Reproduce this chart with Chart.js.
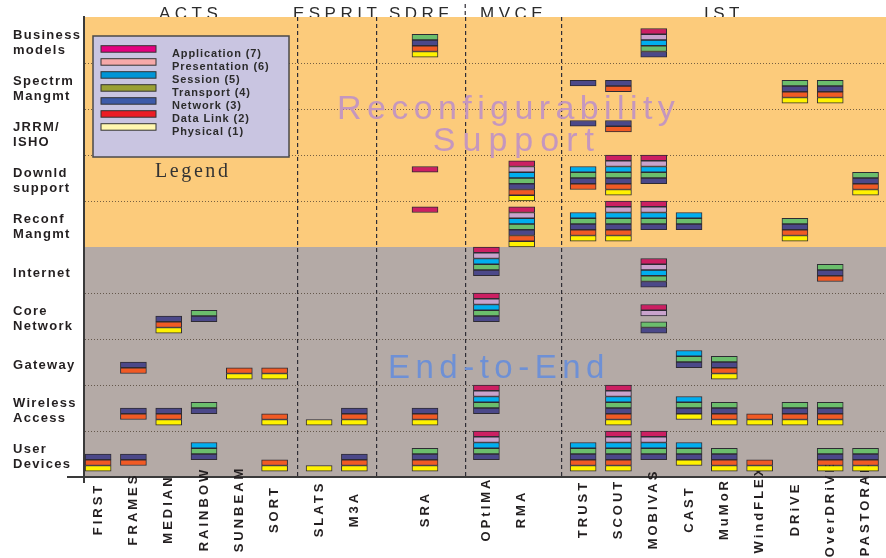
<!DOCTYPE html>
<html>
<head>
<meta charset="utf-8">
<script src="https://cdn.jsdelivr.net/npm/chart.js@4.4.1/dist/chart.umd.min.js"></script>
<style>
  html, body { margin: 0; padding: 0; background: #ffffff; }
  canvas { display: block; }
</style>
</head>
<body>
<canvas id="c" width="886" height="558"></canvas>
<script>
// ------------------------------------------------------------------ data
const groups = ['ACTS', 'ESPRIT', 'SDRF', 'MVCE', 'IST'];
const projects = ['FIRST', 'FRAMES', 'MEDIAN', 'RAINBOW', 'SUNBEAM', 'SORT', 'SLATS', 'M3A', 'SRA',
  'OPtIMA', 'RMA', 'TRUST', 'SCOUT', 'MOBIVAS', 'CAST', 'MuMoR', 'WindFLEX', 'DRiVE', 'OverDRiVE', 'PASTORAL'];
const projectGroup = [0, 0, 0, 0, 0, 0, 1, 1, 2, 3, 3, 4, 4, 4, 4, 4, 4, 4, 4, 4];
const rowLabels = [['Business', 'models'], ['Spectrm', 'Mangmt'], ['JRRM/', 'ISHO'], ['Downld', 'support'],
  ['Reconf', 'Mangmt'], 'Internet', ['Core', 'Network'], 'Gateway', ['Wireless', 'Access'], ['User', 'Devices']];
const layerNames = ['Application (7)', 'Presentation (6)', 'Session (5)', 'Transport (4)',
  'Network (3)', 'Data Link (2)', 'Physical (1)'];
const layerNumbers = [7, 6, 5, 4, 3, 2, 1];
const bandTitles = [['Reconfigurability', 'Support'], ['End-to-End']];
const bandRowCount = [5, 5];
const legendTitle = 'Legend';

// cells: [project, row index, first slot in the row (8 slots per row, 0 = top), layers top->bottom (0 = empty slot)]
const cells = [
  ['SRA', 0, 3, [4, 3, 2, 1]],
  ['MOBIVAS', 0, 2, [7, 6, 5, 4, 3]],

  ['TRUST', 1, 3, [3]],
  ['SCOUT', 1, 3, [3, 2]],
  ['DRiVE', 1, 3, [4, 3, 2, 1]],
  ['OverDRiVE', 1, 3, [4, 3, 2, 1]],

  ['TRUST', 2, 2, [3]],
  ['SCOUT', 2, 2, [3, 2]],

  ['SRA', 3, 2, [7]],
  ['RMA', 3, 1, [7, 6, 5, 4, 3, 2, 1]],
  ['TRUST', 3, 2, [5, 4, 3, 2]],
  ['SCOUT', 3, 0, [7, 6, 5, 4, 3, 2, 1]],
  ['MOBIVAS', 3, 0, [7, 6, 5, 4, 3]],
  ['PASTORAL', 3, 3, [4, 3, 2, 1]],

  ['SRA', 4, 1, [7]],
  ['RMA', 4, 1, [7, 6, 5, 4, 3, 2, 1]],
  ['TRUST', 4, 2, [5, 4, 3, 2, 1]],
  ['SCOUT', 4, 0, [7, 6, 5, 4, 3, 2, 1]],
  ['MOBIVAS', 4, 0, [7, 6, 5, 4, 3]],
  ['CAST', 4, 2, [5, 4, 3]],
  ['DRiVE', 4, 3, [4, 3, 2, 1]],

  ['OPtIMA', 5, 0, [7, 6, 5, 4, 3]],
  ['MOBIVAS', 5, 2, [7, 6, 5, 4, 3]],
  ['OverDRiVE', 5, 3, [4, 3, 2]],

  ['MEDIAN', 6, 4, [3, 2, 1]],
  ['RAINBOW', 6, 3, [4, 3]],
  ['OPtIMA', 6, 0, [7, 6, 5, 4, 3]],
  ['MOBIVAS', 6, 2, [7, 6, 0, 4, 3]],

  ['FRAMES', 7, 4, [3, 2]],
  ['SUNBEAM', 7, 5, [2, 1]],
  ['SORT', 7, 5, [2, 1]],
  ['CAST', 7, 2, [5, 4, 3]],
  ['MuMoR', 7, 3, [4, 3, 2, 1]],

  ['FRAMES', 8, 4, [3, 2]],
  ['MEDIAN', 8, 4, [3, 2, 1]],
  ['RAINBOW', 8, 3, [4, 3]],
  ['SORT', 8, 5, [2, 1]],
  ['SLATS', 8, 6, [1]],
  ['M3A', 8, 4, [3, 2, 1]],
  ['SRA', 8, 4, [3, 2, 1]],
  ['OPtIMA', 8, 0, [7, 6, 5, 4, 3]],
  ['SCOUT', 8, 0, [7, 6, 5, 4, 3, 2, 1]],
  ['CAST', 8, 2, [5, 4, 3, 1]],
  ['MuMoR', 8, 3, [4, 3, 2, 1]],
  ['WindFLEX', 8, 5, [2, 1]],
  ['DRiVE', 8, 3, [4, 3, 2, 1]],
  ['OverDRiVE', 8, 3, [4, 3, 2, 1]],

  ['FIRST', 9, 4, [3, 2, 1]],
  ['FRAMES', 9, 4, [3, 2]],
  ['RAINBOW', 9, 2, [5, 4, 3]],
  ['SORT', 9, 5, [2, 1]],
  ['SLATS', 9, 6, [1]],
  ['M3A', 9, 4, [3, 2, 1]],
  ['SRA', 9, 3, [4, 3, 2, 1]],
  ['OPtIMA', 9, 0, [7, 6, 5, 4, 3]],
  ['TRUST', 9, 2, [5, 4, 3, 2, 1]],
  ['SCOUT', 9, 0, [7, 6, 5, 4, 3, 2, 1]],
  ['MOBIVAS', 9, 0, [7, 6, 5, 4, 3]],
  ['CAST', 9, 2, [5, 4, 3, 1]],
  ['MuMoR', 9, 3, [4, 3, 2, 1]],
  ['WindFLEX', 9, 5, [2, 1]],
  ['OverDRiVE', 9, 3, [4, 3, 2, 1]],
  ['PASTORAL', 9, 3, [4, 3, 2, 1]]
];

// ------------------------------------------------------------------ layout & style
const SLOTS_PER_ROW = 8;
const GROUP_SHIFT = [0, 0.26, 1.26, 2.0, 2.74];
const GROUP_EDGES = [-0.40, 5.64, 7.90, 10.40, 13.14, 22.32];
const X_MIN = GROUP_EDGES[0], X_MAX = GROUP_EDGES[GROUP_EDGES.length - 1];
const FONT = "'Liberation Sans', Arial, Helvetica, sans-serif";
const SERIF = "'Liberation Serif', 'Times New Roman', serif";
const BAND_COLORS = ['#FCCB7B', '#B4AAA6'];
const WATERMARK_COLORS = ['#C597BE', '#6E90D5'];
const WATERMARK_LAYOUT = [
  [{ fx: 0.3155, fy: 0.2217, size: 34, spacing: '5.4px' }, { fx: 0.435, fy: 0.2913, size: 34, spacing: '7.0px' }],
  [{ fx: 0.379, fy: 0.7848, size: 33, spacing: '5.5px' }]
];
const layerBarColors = { 7: '#CC1F62', 6: '#C9A3CC', 5: '#00AEEF', 4: '#6BBE6C', 3: '#4B4889', 2: '#F15A24', 1: '#FFF200' };
const layerLegendColors = { 7: '#E4007F', 6: '#F6A9A9', 5: '#0095D6', 4: '#9AA035', 3: '#3D5BA9', 2: '#EC1C24', 1: '#FFF7B0' };
const TICK_SPACING = { x: '3px', yl: '1.3px', xt: '4.5px' };
const X_LABEL_CENTER = 32;

const xPos = i => i + GROUP_SHIFT[projectGroup[i]];

function spaced(ctx, sp) { if ('letterSpacing' in ctx) ctx.letterSpacing = sp; }

const datasets = layerNumbers.map((L, k) => ({
  label: layerNames[k],
  legendColor: layerLegendColors[L],
  data: cells.flatMap(([p, r, slot, ls]) => {
    const out = [];
    ls.forEach((l, j) => {
      if (l === L) {
        const top = r + (slot + j) / SLOTS_PER_ROW;
        out.push({ x: xPos(projects.indexOf(p)), y: [top, top + 1 / SLOTS_PER_ROW] });
      }
    });
    return out;
  }),
  backgroundColor: layerBarColors[L],
  borderColor: '#2E2B33',
  borderWidth: 1,
  borderSkipped: false,
  barThickness: 26,
  grouped: false,
  xAxisID: 'x',
  yAxisID: 'y'
}));

const overlayPlugin = {
  id: 'overlay',
  beforeDraw(chart) {
    const { ctx, chartArea: a } = chart;
    const y = chart.scales.y;
    let r0 = 0;
    bandRowCount.forEach((n, i) => {
      const t = y.getPixelForValue(r0), b = y.getPixelForValue(r0 + n);
      ctx.save();
      ctx.fillStyle = BAND_COLORS[i];
      ctx.fillRect(a.left, t, a.right - a.left, b - t);
      ctx.restore();
      r0 += n;
    });
    for (const [id, sp] of Object.entries(TICK_SPACING)) {
      const s = chart.scales[id];
      if (s && !s.__spaced) {
        const orig = s.drawLabels;
        s.drawLabels = function (area) {
          const c = this.ctx; c.save(); spaced(c, sp); orig.call(this, area); c.restore();
        };
        s.__spaced = true;
      }
    }
    const xs = chart.scales.x;
    xs._computeLabelArea = () => undefined;
    xs.getLabelItems().forEach(it => {
      it.options.textAlign = 'center';
      it.options.translation = [it.options.translation[0], xs.top + X_LABEL_CENTER];
    });
  },
  beforeDatasetsDraw(chart) {
    const { ctx, chartArea: a } = chart;
    ctx.save();
    ctx.textAlign = 'left';
    ctx.textBaseline = 'alphabetic';
    bandTitles.forEach((lines, b) => {
      lines.forEach((txt, j) => {
        const w = WATERMARK_LAYOUT[b][j];
        ctx.font = `${w.size}px ${FONT}`;
        ctx.fillStyle = WATERMARK_COLORS[b];
        spaced(ctx, w.spacing);
        ctx.fillText(txt, a.left + w.fx * (a.right - a.left), a.top + w.fy * (a.bottom - a.top));
      });
    });
    ctx.restore();
  },
  afterDatasetsDraw(chart) {
    const { ctx, chartArea: a } = chart;
    const bx = a.left + 9, by = a.top + 19, bw = 196, bh = 121;
    ctx.save();
    ctx.fillStyle = '#C9C5E1';
    ctx.fillRect(bx, by, bw, bh);
    ctx.strokeStyle = '#4A4A4A';
    ctx.lineWidth = 1.5;
    ctx.strokeRect(bx, by, bw, bh);
    ctx.font = `bold 11px ${FONT}`;
    spaced(ctx, '0.9px');
    ctx.textAlign = 'left';
    ctx.textBaseline = 'alphabetic';
    chart.data.datasets.forEach((ds, i) => {
      const sy = by + 9.7 + i * 13;
      ctx.fillStyle = ds.legendColor;
      ctx.fillRect(bx + 8, sy, 55, 6.5);
      ctx.strokeStyle = '#333333';
      ctx.lineWidth = 1;
      ctx.strokeRect(bx + 8, sy, 55, 6.5);
      ctx.fillStyle = '#2B2B2B';
      ctx.fillText(ds.label, bx + 79, sy + 10.8);
    });
    ctx.font = `20px ${SERIF}`;
    spaced(ctx, '2.6px');
    ctx.fillStyle = '#333333';
    ctx.fillText(legendTitle, bx + 62, by + bh + 19.5);
    ctx.restore();
  },
  afterDraw(chart) {
    const { ctx, chartArea: a } = chart;
    ctx.save();
    ctx.strokeStyle = '#3A3A3A';
    ctx.lineWidth = 2;
    ctx.beginPath();
    ctx.moveTo(a.left - 17, a.bottom); ctx.lineTo(a.left, a.bottom);
    ctx.moveTo(a.left, a.bottom); ctx.lineTo(a.left, a.bottom + 6);
    ctx.stroke();
    const xsep = chart.scales.xs.getPixelForValue(GROUP_EDGES[3]);
    ctx.lineWidth = 1.2;
    ctx.strokeStyle = '#2F2D35';
    ctx.setLineDash([4, 3]);
    ctx.beginPath();
    ctx.moveTo(xsep, 4); ctx.lineTo(xsep, a.top);
    ctx.stroke();
    ctx.restore();
  }
};

new Chart(document.getElementById('c'), {
  type: 'bar',
  data: { datasets },
  options: {
    responsive: false,
    animation: false,
    devicePixelRatio: 1,
    layout: { padding: { left: 13, right: 0, top: 0, bottom: 0 } },
    plugins: { legend: { display: false }, tooltip: { enabled: false } },
    scales: {
      x: {
        type: 'linear', position: 'bottom', min: X_MIN, max: X_MAX, offset: false,
        afterBuildTicks: s => { s.ticks = projects.map((p, i) => ({ value: xPos(i) })); },
        afterFit: s => { s.height = 81; },
        grid: { display: false, offset: false },
        border: { display: true, color: '#3A3A3A', width: 2 },
        ticks: {
          autoSkip: false, minRotation: 90, maxRotation: 90, padding: 4, color: '#231F20',
          font: { family: FONT, size: 13, weight: 'bold' },
          callback: (v, i) => projects[i]
        }
      },
      xt: {
        type: 'linear', position: 'top', min: X_MIN, max: X_MAX, offset: false,
        afterBuildTicks: s => { s.ticks = groups.map((g, i) => ({ value: (GROUP_EDGES[i] + GROUP_EDGES[i + 1]) / 2 })); },
        afterFit: s => { s.height = 17; },
        grid: { display: false, offset: false },
        border: { display: false },
        ticks: {
          autoSkip: false, maxRotation: 0, minRotation: 0, padding: -16, color: '#2B2B2B',
          font: { family: FONT, size: 17 },
          callback: (v, i) => groups[i]
        }
      },
      xs: {
        type: 'linear', position: 'top', min: X_MIN, max: X_MAX, offset: false,
        afterBuildTicks: s => { s.ticks = GROUP_EDGES.slice(1, -1).map(v => ({ value: v })); },
        afterFit: s => { s.height = 0; },
        grid: { display: true, offset: false, drawTicks: false, color: '#2F2D35', lineWidth: 1.2 },
        border: { display: false, dash: [4, 3] },
        ticks: { display: false }
      },
      y: { type: 'linear', min: 0, max: rowLabels.length, reverse: true, display: false },
      yl: {
        type: 'category', position: 'left', labels: rowLabels, offset: true,
        afterFit: s => { s.width = 71; },
        grid: {
          offset: true, drawTicks: false, lineWidth: 1,
          color: c => (c.index === undefined || c.index === 0 || c.index === bandRowCount[0]) ? 'rgba(0,0,0,0)' : 'rgba(75,60,45,0.75)'
        },
        border: { display: true, color: '#3A3A3A', width: 2, dash: [1, 2] },
        ticks: {
          crossAlign: 'far', padding: 0, labelOffset: 3, color: '#231F20',
          font: { family: FONT, size: 13, weight: 'bold', lineHeight: 1.15 }
        }
      }
    }
  },
  plugins: [overlayPlugin]
});
</script>
</body>
</html>
